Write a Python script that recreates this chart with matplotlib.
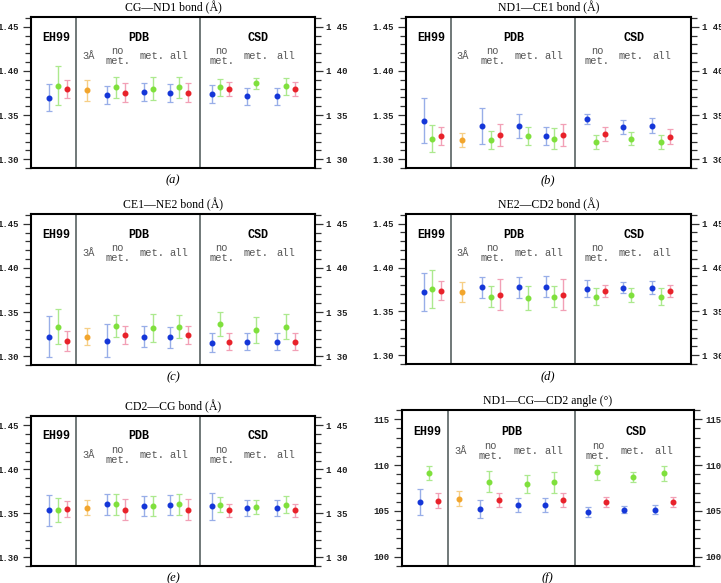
import matplotlib
matplotlib.use('Agg')
import matplotlib.pyplot as plt
import matplotlib.transforms as mtransforms
from matplotlib.ticker import MultipleLocator

# order of points: EH99 (b,g,r) | PDB 3A (o), no met (b,g,r), met (b,g), all (b,g,r)
#                  | CSD no met (b,g,r), met (b,g), all (b,g,r)
series = ['b', 'g', 'r', 'o', 'b', 'g', 'r', 'b', 'g', 'b', 'g', 'r',
          'b', 'g', 'r', 'b', 'g', 'b', 'g', 'r']

a_mean = [1.3695, 1.3834, 1.3797, 1.3778, 1.3732, 1.3812, 1.3755, 1.3759, 1.3800,
          1.3750, 1.3812, 1.3755, 1.3740, 1.3812, 1.3793, 1.3713, 1.3857, 1.3713,
          1.3823, 1.3793]
a_err = [0.0155, 0.0222, 0.0100, 0.0117, 0.0102, 0.0123, 0.0113, 0.0100, 0.0135,
         0.0100, 0.0123, 0.0113, 0.0100, 0.0095, 0.0078, 0.0094, 0.0057, 0.0094,
         0.0094, 0.0078]

b_mean = [1.3436, 1.3232, 1.3259, 1.3217, 1.3376, 1.3217, 1.3274, 1.3376, 1.3262,
          1.3259, 1.3232, 1.3274, 1.3455, 1.3191, 1.3281, 1.3364, 1.3232, 1.3379,
          1.3198, 1.3255]
b_err = [0.0252, 0.0153, 0.0100, 0.0079, 0.0205, 0.0100, 0.0122, 0.0134, 0.0100,
         0.0100, 0.0117, 0.0122, 0.0062, 0.0079, 0.0079, 0.0079, 0.0075, 0.0083,
         0.0079, 0.0083]

c_mean = [1.3222, 1.3335, 1.3173, 1.3222, 1.3177, 1.3338, 1.3241, 1.3222, 1.3316,
          1.3214, 1.3335, 1.3241, 1.3154, 1.3361, 1.3162, 1.3162, 1.3293, 1.3162,
          1.3335, 1.3162]
c_err = [0.0235, 0.0195, 0.0111, 0.0094, 0.0182, 0.0124, 0.0100, 0.0115, 0.0158,
         0.0120, 0.0132, 0.0100, 0.0105, 0.0137, 0.0096, 0.0096, 0.0145, 0.0096,
         0.0141, 0.0096]

d_mean = [1.3722, 1.3756, 1.3737, 1.3722, 1.3774, 1.3669, 1.3688, 1.3774, 1.3650,
          1.3782, 1.3669, 1.3688, 1.3759, 1.3669, 1.3733, 1.3771, 1.3688, 1.3771,
          1.3669, 1.3733]
d_err = [0.0213, 0.0220, 0.0113, 0.0118, 0.0118, 0.0118, 0.0177, 0.0117, 0.0137,
         0.0118, 0.0118, 0.0177, 0.0094, 0.0096, 0.0073, 0.0064, 0.0081, 0.0075,
         0.0094, 0.0073]

e_mean = [1.3534, 1.3534, 1.3545, 1.3563, 1.3601, 1.3601, 1.3541, 1.3582, 1.3582,
          1.3597, 1.3601, 1.3541, 1.3578, 1.3597, 1.3534, 1.3563, 1.3575, 1.3563,
          1.3597, 1.3534]
e_err = [0.0175, 0.0138, 0.0092, 0.0086, 0.0120, 0.0120, 0.0118, 0.0114, 0.0112,
         0.0114, 0.0120, 0.0118, 0.0155, 0.0086, 0.0075, 0.0090, 0.0079, 0.0090,
         0.0099, 0.0075]

f_mean = [106.01, 109.17, 106.12, 106.34, 105.22, 108.19, 106.20, 105.62, 107.97,
          105.62, 108.12, 106.20, 104.86, 109.20, 105.94, 105.14, 108.70, 105.14,
          109.13, 105.94]
f_err = [1.40, 0.76, 0.80, 0.80, 0.98, 1.12, 0.75, 0.76, 1.00,
         0.76, 1.12, 0.75, 0.52, 0.82, 0.54, 0.40, 0.56, 0.50,
         0.82, 0.54]

titles = [u'CG\u2014ND1 bond (\u00c5)', u'ND1\u2014CE1 bond (\u00c5)',
          u'CE1\u2014NE2 bond (\u00c5)', u'NE2\u2014CD2 bond (\u00c5)',
          u'CD2\u2014CG bond (\u00c5)', u'ND1\u2014CG\u2014CD2 angle (\u00b0)']
letters = ['a', 'b', 'c', 'd', 'e', 'f']
groups = ['EH99', 'PDB', 'CSD']
subsets = [u'3\u00c5', 'no\nmet.', 'met.', 'all', 'no\nmet.', 'met.', 'all']
bond_ticks = [1.30, 1.35, 1.40, 1.45]
bond_ticklabels_right = ['1 30', '1 35', '1 40', '1 45']
angle_ticks = [100, 105, 110, 115]

# layout (x positions in slot units, figure boxes in pixels)
xpos = [2.0, 3.0, 4.0, 6.3, 8.6, 9.6, 10.6, 12.7, 13.7, 15.7, 16.7, 17.7,
        20.35, 21.35, 22.35, 24.35, 25.35, 27.7, 28.7, 29.7]
seps = [5.05, 19.0]
group_x = [2.85, 12.1, 25.6]
subset_x = [6.45, 9.75, 13.65, 16.6, 21.5, 25.3, 28.7]
dot_col = {'b': '#1436d8', 'g': '#7fe03c', 'r': '#e8222a', 'o': '#f2a52c'}
bar_col = {'b': '#98aee8', 'g': '#ace98e', 'r': '#f2a0b6', 'o': '#f6cf86'}

W, H = 721., 583.
boxes = [(31, 17, 315, 168), (405.7, 17, 690.7, 168),
         (31, 214, 315, 365), (405.7, 214, 690.7, 364),
         (31, 415.7, 315, 566), (401.7, 410, 694, 566)]

means = [a_mean, b_mean, c_mean, d_mean, e_mean, f_mean]
errs = [a_err, b_err, c_err, d_err, e_err, f_err]

fig = plt.figure(figsize=(W / 100, H / 100), dpi=100)
mono = 'Liberation Mono'
serif = 'Liberation Serif'
tickcol = '#333333'

for p in range(6):
    x0, y0, x1, y1 = boxes[p]
    ax = fig.add_axes([x0 / W, (H - y1) / H, (x1 - x0) / W, (y1 - y0) / H])
    for i in range(len(series)):
        s = series[i]
        ax.errorbar(xpos[i], means[p][i], yerr=errs[p][i], fmt='none',
                    ecolor=bar_col[s], elinewidth=1.0, capsize=2, capthick=0.9)
        ax.plot(xpos[i], means[p][i], 'o', color=dot_col[s], ms=3.3,
                mec=dot_col[s], zorder=3)
    for sx in seps:
        ax.axvline(sx, color='#707878', lw=1.4)
    ax.set_xlim(0, 32)
    ax.set_xticks([])

    if p < 5:
        ax.set_ylim(1.29, 1.461)
        ax.set_yticks(bond_ticks)
        ax.yaxis.set_minor_locator(MultipleLocator(0.01))
        ax.set_yticklabels(['%.2f' % t for t in bond_ticks])
        rlabels = bond_ticklabels_right
        minor = 0.01
    else:
        ax.set_ylim(99.0, 116.0)
        ax.set_yticks(angle_ticks)
        ax.yaxis.set_minor_locator(MultipleLocator(1))
        ax.set_yticklabels([str(t) for t in angle_ticks])
        rlabels = [str(t) for t in angle_ticks]
        minor = 1

    ax.tick_params(axis='y', which='both', direction='out', left=True,
                   right=False, color=tickcol, width=0.9)
    ax.tick_params(axis='y', which='major', length=5.5, labelsize=6.5, pad=3)
    ax.tick_params(axis='y', which='minor', length=4.5)
    for lab in ax.get_yticklabels():
        lab.set_fontfamily(mono)
        lab.set_fontweight('bold')
        lab.set_color('#222222')

    axr = ax.secondary_yaxis('right')
    axr.set_yticks(ax.get_yticks())
    axr.set_yticklabels(rlabels)
    axr.yaxis.set_minor_locator(MultipleLocator(minor))
    axr.tick_params(axis='y', which='major', length=6, width=0.9,
                    color=tickcol, labelsize=6.5, pad=2)
    axr.tick_params(axis='y', which='minor', length=4.5, width=0.9,
                    color=tickcol)
    axr.spines['right'].set_visible(False)
    for lab in axr.get_yticklabels():
        lab.set_fontfamily(mono)
        lab.set_fontweight('bold')
        lab.set_color('#222222')

    for sp in ax.spines.values():
        sp.set_linewidth(1.5)
        sp.set_color('black')

    trans = mtransforms.blended_transform_factory(ax.transData, ax.transAxes)
    for g in range(3):
        ax.text(group_x[g], 0.862, groups[g], transform=trans, ha='center',
                va='center', fontsize=8.5, fontweight='bold', family=mono)
    for k in range(len(subsets)):
        ax.text(subset_x[k], 0.74, subsets[k], transform=trans, ha='center',
                va='center', fontsize=7.5, family=mono, color='#555555',
                linespacing=1.0)

    ax.set_title(titles[p], fontsize=8.5, family=serif, pad=4)
    ax.text(0.5, -0.08, '(' + letters[p] + ')', transform=ax.transAxes,
            ha='center', va='center', fontsize=9, family=serif,
            style='italic')

fig.savefig('out.png', dpi=100)
